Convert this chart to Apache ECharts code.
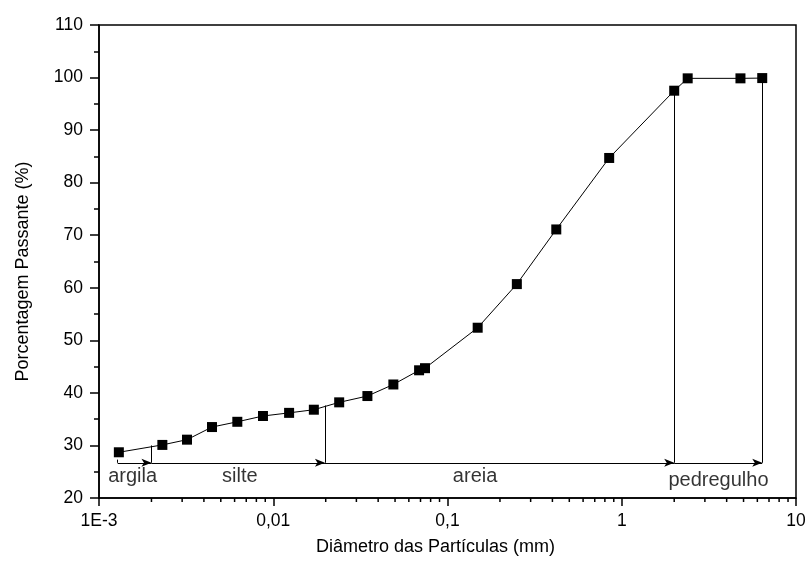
<!DOCTYPE html>
<html>
<head>
<meta charset="utf-8">
<script src="https://cdn.jsdelivr.net/npm/echarts@6/dist/echarts.min.js"></script>
<style>
  html, body { margin: 0; padding: 0; background: #fff; }
  #chart { width: 809px; height: 572px; }
</style>
</head>
<body>
<div id="chart"></div>
<script>
// grain size curve
const diam = [0.0013, 0.00231, 0.0032, 0.00445, 0.00622, 0.00873, 0.01233, 0.0171, 0.0239, 0.0347, 0.0489, 0.0687, 0.0743, 0.149, 0.250, 0.421, 0.847, 2.0, 2.39, 4.80, 6.40]
const passing = [28.7, 30.1, 31.1, 33.5, 34.5, 35.6, 36.2, 36.8, 38.2, 39.4, 41.6, 44.3, 44.7, 52.4, 60.7, 71.1, 84.7, 97.5, 99.85, 99.85, 99.9]

// zone limits and names
const zoneEdges = [0.00128, 0.002, 0.0198, 2.0, 6.4]
const edgeTops = [27.3, 30.0, 37.6, 97.5, 99.9]
const arrowY = 26.7
const zoneNames = ['argila', 'silte', 'areia', 'pedregulho']
const zoneLabelX = [0.00156, 0.00643, 0.144, 3.59]
const zoneLabelY = [24.0, 24.0, 24.0, 23.4]

const xTickLabels = { '-3': '1E-3', '-2': '0,01', '-1': '0,1', '0': '1', '1': '10' }

const minorTicks = []
for (let e = -3; e < 1; e++) {
  for (let k = 2; k <= 9; k++) minorTicks.push(k * Math.pow(10, e))
}

const font = 'Liberation Sans, Arial, sans-serif'
const chart = echarts.init(document.getElementById('chart'))

const arrows = zoneNames.map((n, i) => [
  { coord: [zoneEdges[i], arrowY] },
  { coord: [zoneEdges[i + 1], arrowY] },
])
const verticals = zoneEdges.map((x, i) => [
  { coord: [x, arrowY] },
  { coord: [x, edgeTops[i]] },
])

chart.setOption({
  animation: false,
  backgroundColor: '#fff',
  grid: {
    left: 99, right: 13, top: 25, bottom: 74,
    show: true, borderColor: '#000', borderWidth: 1.5,
  },
  xAxis: {
    type: 'log',
    logBase: 10,
    min: 0.001,
    max: 10,
    name: 'Diâmetro das Partículas (mm)',
    nameLocation: 'middle',
    nameGap: 40,
    nameTextStyle: { color: '#000', fontSize: 18, fontFamily: font, padding: [0, 24, 0, 0] },
    axisLine: { show: true, lineStyle: { color: '#000', width: 1.5 } },
    axisTick: { show: true, inside: false, length: 8, lineStyle: { color: '#000', width: 1.5 } },
    axisLabel: {
      color: '#000', fontSize: 17.5, fontFamily: font, margin: 14,
      formatter: (v) => xTickLabels[String(Math.round(Math.log10(v)))] || '',
    },
    splitLine: { show: false },
  },
  yAxis: {
    type: 'value',
    min: 20,
    max: 110,
    interval: 10,
    name: 'Porcentagem Passante (%)',
    nameLocation: 'middle',
    nameGap: 67,
    nameTextStyle: { color: '#000', fontSize: 18, fontFamily: font, padding: [0, 20, 0, 0] },
    axisLine: { show: true, lineStyle: { color: '#000', width: 1.5 } },
    axisTick: { show: true, inside: false, length: 9, lineStyle: { color: '#000', width: 1.5 } },
    minorTick: { show: true, splitNumber: 2, length: 5, lineStyle: { color: '#000', width: 1.5 } },
    axisLabel: { color: '#000', fontSize: 17.5, fontFamily: font, margin: 16 },
    splitLine: { show: false },
  },
  series: [
    {
      type: 'line',
      data: diam.map((d, i) => [d, passing[i]]),
      symbol: 'rect',
      symbolSize: 10,
      itemStyle: { color: '#000' },
      lineStyle: { color: '#000', width: 1 },
      markLine: {
        silent: true,
        symbol: ['none', 'arrow'],
        symbolSize: [6, 10],
        label: { show: false },
        lineStyle: { color: '#000', width: 1, type: 'solid' },
        data: arrows,
      },
    },
    {
      type: 'line',
      data: [],
      markLine: {
        silent: true,
        symbol: ['none', 'none'],
        label: { show: false },
        lineStyle: { color: '#000', width: 1, type: 'solid' },
        data: verticals,
      },
    },
    {
      type: 'scatter',
      symbolSize: 0,
      data: zoneNames.map((n, i) => ({ value: [zoneLabelX[i], zoneLabelY[i]], name: n })),
      label: {
        show: true,
        position: 'inside',
        formatter: (p) => p.name,
        color: '#000',
        fontSize: 20,
        fontFamily: font,
      },
    },
    {
      type: 'custom',
      silent: true,
      data: minorTicks.map((v) => [v, 20]),
      renderItem: (params, api) => {
        const p = api.coord([api.value(0), api.value(1)])
        return {
          type: 'line',
          shape: { x1: p[0], y1: p[1], x2: p[0], y2: p[1] + 4 },
          style: { stroke: '#000', lineWidth: 1.5 },
        }
      },
    },
  ],
})
</script>
</body>
</html>
